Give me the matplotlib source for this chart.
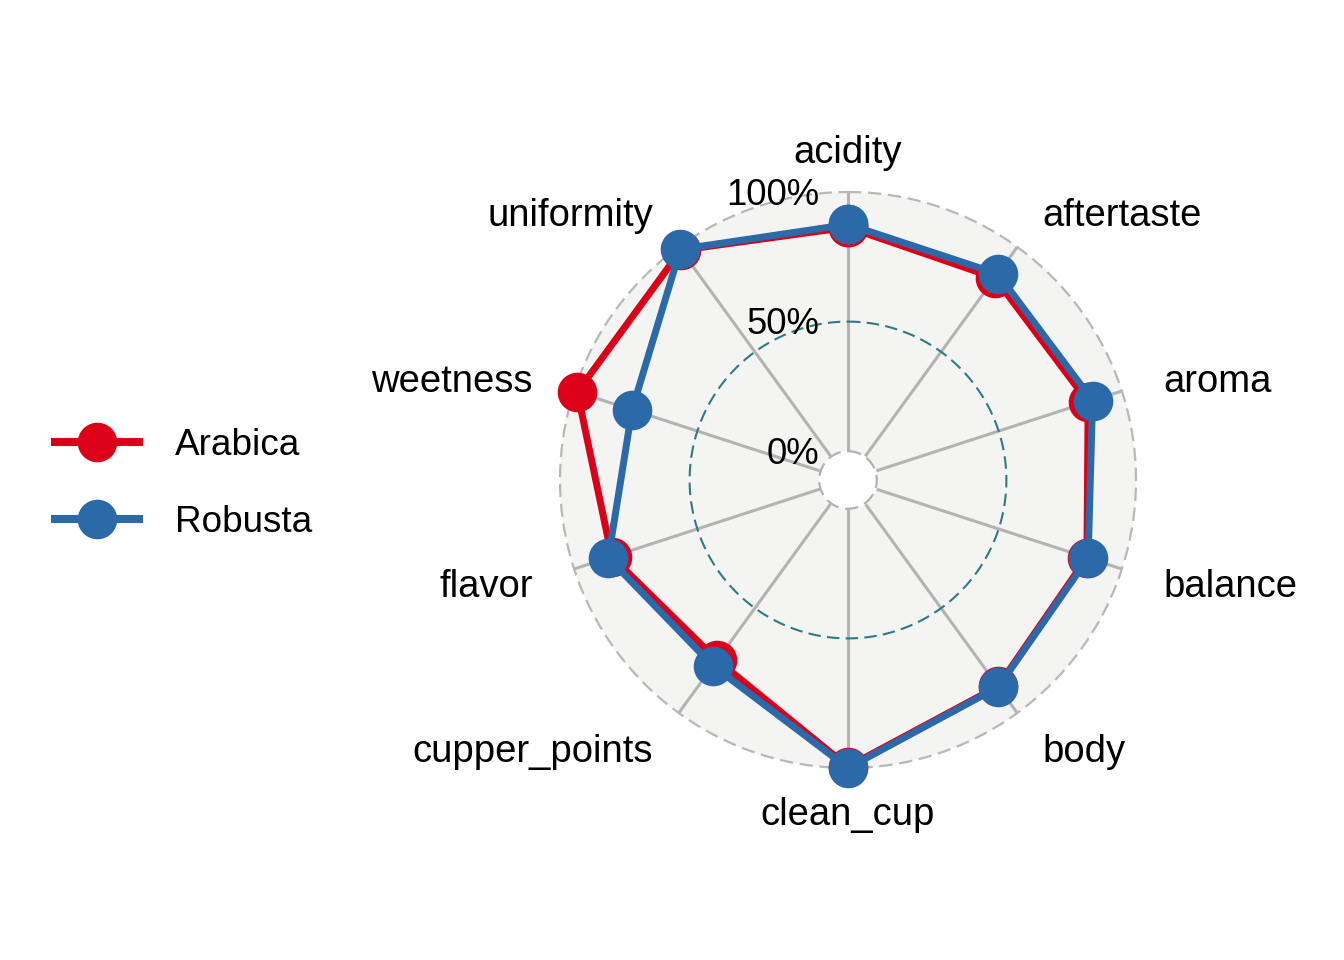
import numpy as np
import matplotlib
matplotlib.use('Agg')
import matplotlib.pyplot as plt
from matplotlib.lines import Line2D

plt.rcParams['font.family'] = ['Liberation Sans', 'DejaVu Sans']

# coffee cupping scores, rescaled 0..1
categories = ['acidity', 'aftertaste', 'aroma', 'balance', 'body',
              'clean_cup', 'cupper_points', 'flavor', 'weetness', 'uniformity']
arabica = [0.864, 0.853, 0.863, 0.858, 0.873, 0.995, 0.748, 0.847, 0.987, 0.985]
robusta = [0.875, 0.872, 0.881, 0.863, 0.876, 1.000, 0.775, 0.861, 0.765, 0.989]
series_names = ['Arabica', 'Robusta']
series_colors = ['#DC0019', '#2C69A8']
grid_values = [0.0, 0.5, 1.0]
grid_labels = ['0%', '50%', '100%']

centre = -1.0 / 9  # ggradar-style offset of the centre

fig = plt.figure(figsize=(13.44, 9.6), dpi=100)
ax = fig.add_axes([0.41667, 0.2, 0.42857, 0.6], projection='polar')
ax.set_theta_offset(np.pi / 2)
ax.set_theta_direction(-1)
ax.set_ylim(centre, 1.0)
ax.set_facecolor('#F4F4F2')
ax.spines['polar'].set_visible(False)
ax.grid(False)
ax.set_xticks([])
ax.set_yticks([])

n = len(categories)
angles = np.linspace(0, 2 * np.pi, n, endpoint=False)
circ = np.linspace(0, 2 * np.pi, 361)

# axis spokes
for a in angles:
    ax.plot([a, a], [0, 1.0], color='#B3B3B3', lw=2.2, zorder=1, solid_capstyle='butt')

# centre hole and grid circles
ax.fill_between(circ, centre, 0, color='white', zorder=2)
ax.plot(circ, np.full_like(circ, 0.0), color='#B3B3B3', lw=1.6, ls=(0, (6, 3)), zorder=2)
ax.plot(circ, np.full_like(circ, 0.5), color='#2E7B85', lw=1.5, ls=(0, (6, 3)), zorder=2)
ax.plot(circ, np.full_like(circ, 1.0), color='#B8B8B8', lw=1.6, ls=(0, (6, 3)), zorder=2,
        clip_on=False)

# series
for vals, col in zip([arabica, robusta], series_colors):
    th = np.append(angles, angles[0])
    rr = np.append(vals, vals[0])
    ax.plot(th, rr, color=col, lw=5, marker='o', markersize=27.5,
            zorder=3, clip_on=False)

# axis labels
label_r = centre + 1.15 * (1.0 - centre)
for a, name in zip(angles, categories):
    s = np.sin(a)
    if s > 0.01:
        ha = 'left'
    elif s < -0.01:
        ha = 'right'
    else:
        ha = 'center'
    ax.annotate(name, xy=(a, label_r), xycoords='data', xytext=(0, -3),
                textcoords='offset points', ha=ha, va='center',
                fontsize=27.5, annotation_clip=False)

# grid labels
for v, lab in zip(grid_values, grid_labels):
    ax.annotate(lab, xy=(0, v), xycoords='data', xytext=(-20.7, -2.2),
                textcoords='offset points', ha='right', va='center',
                fontsize=26.3, annotation_clip=False, zorder=4)

handles = [Line2D([0], [0], color=c, lw=5.8, marker='o', markersize=27.5,
                  solid_capstyle='butt')
           for c in series_colors]
fig.legend(handles, series_names, loc='center left', bbox_to_anchor=(0.038, 0.4958),
           frameon=False, fontsize=26.6, handlelength=2.49, handletextpad=0.87,
           labelspacing=1.12, borderpad=0, borderaxespad=0)

fig.savefig('out.png', dpi=100)
